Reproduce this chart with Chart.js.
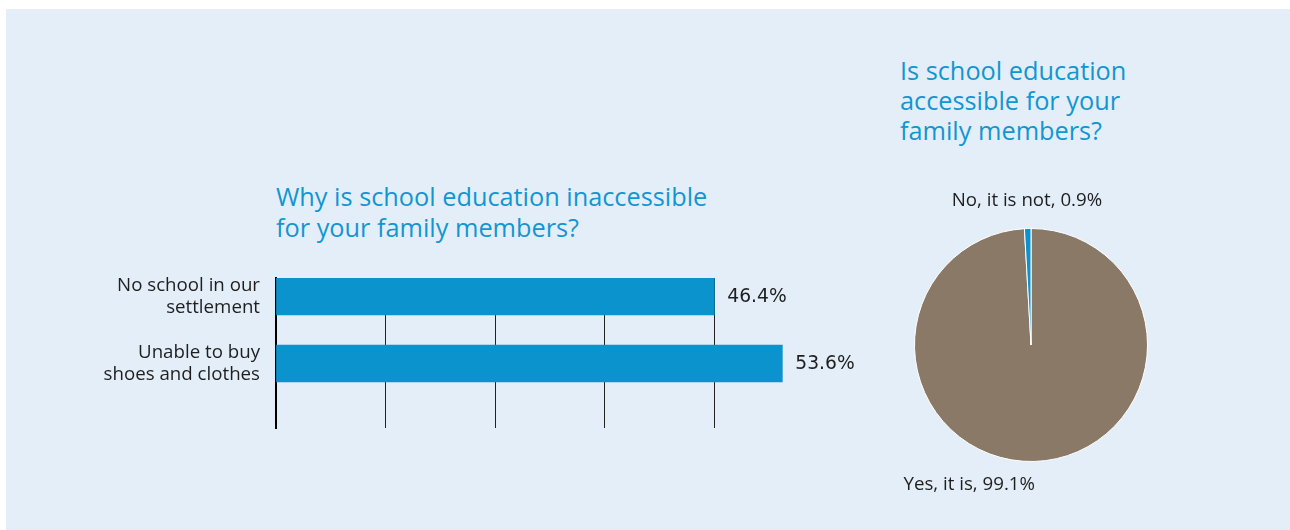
<!DOCTYPE html>
<html>
<head>
<meta charset="utf-8">
<script src="https://cdn.jsdelivr.net/npm/chart.js@4.4.1/dist/chart.umd.min.js"></script>
<style>
  html, body { margin: 0; padding: 0; background: #fff; }
  body { width: 1290px; height: 530px; position: relative; overflow: hidden; font-family: "Open Sans", sans-serif; }
  .panel { position: absolute; left: 6px; top: 9px; width: 1284px; height: 521px; background: #e4eef9; }
  .title { position: absolute; color: #1296d3; font-size: 25.3px; white-space: nowrap; }
  #barTitle { left: 276px; top: 181px; line-height: 31px; }
  #pieTitle { left: 900px; top: 55px; line-height: 30px; }
  canvas { position: absolute; }
  #bar { left: 80px; top: 250px; }
  #pie { left: 880px; top: 160px; }
</style>
</head>
<body>
<div class="panel"></div>
<div class="title" id="barTitle">Why is school education inaccessible<br>for your family members?</div>
<div class="title" id="pieTitle">Is school education<br>accessible for your<br>family members?</div>
<canvas id="bar" width="800" height="200"></canvas>
<canvas id="pie" width="300" height="360"></canvas>
<script>
// ===== 数据 =====
const barCategories = [
  ['No school in our', 'settlement'],
  ['Unable to buy', 'shoes and clothes']
];
const barValues = [46.4, 53.6];

const pieLabels = ['Yes, it is', 'No, it is not'];
const pieValues = [99.1, 0.9];

const BLUE = '#0b93cd';
const BROWN = '#8a7966';
const TEXT = '#1e1e1e';
const LABEL_SIZE = 18.7;

// 柱状图数值标签
const barValueLabels = {
  id: 'barValueLabels',
  afterDatasetsDraw(chart) {
    const ctx = chart.ctx;
    ctx.save();
    ctx.font = LABEL_SIZE + 'px "DejaVu Sans"';
    ctx.fillStyle = TEXT;
    ctx.textAlign = 'left';
    ctx.textBaseline = 'middle';
    chart.getDatasetMeta(0).data.forEach((bar, i) => {
      ctx.fillText(barValues[i].toFixed(1) + '%', bar.x + 13, bar.y + 1);
    });
    ctx.restore();
  }
};

new Chart(document.getElementById('bar'), {
  type: 'bar',
  data: {
    datasets: [{
      data: barValues.map((v, i) => ({ x: v, y: i })),
      backgroundColor: BLUE,
      barThickness: 37,
      borderWidth: 0
    }]
  },
  options: {
    indexAxis: 'y',
    responsive: false,
    animation: false,
    layout: { padding: { top: 28, bottom: 22, right: 75, left: 0 } },
    plugins: { legend: { display: false }, tooltip: { enabled: false } },
    scales: {
      x: {
        type: 'linear',
        min: 0,
        max: 56,
        ticks: { display: false, stepSize: 11.6, includeBounds: false },
        grid: { color: '#222', lineWidth: 1, drawTicks: false },
        border: { display: false }
      },
      y: {
        type: 'linear',
        reverse: true,
        offset: false,
        min: -0.276,
        max: 1.963,
        afterBuildTicks: (scale) => { scale.ticks = barCategories.map((_, i) => ({ value: i })); },
        afterFit: (scale) => {
          scale.width = 196;
          scale.paddingTop = 0;
          scale.paddingBottom = 0;
        },
        ticks: {
          padding: 16,
          color: TEXT,
          font: { family: 'Open Sans', size: LABEL_SIZE, lineHeight: 1.18 },
          callback: (v) => barCategories[v] || ''
        },
        grid: { display: false, drawTicks: false, offset: false },
        border: { display: true, color: '#000', width: 2 }
      }
    }
  },
  plugins: [barValueLabels]
});

// 饼图外侧标签
const pieOuterLabels = {
  id: 'pieOuterLabels',
  afterDatasetsDraw(chart) {
    const ctx = chart.ctx;
    ctx.save();
    ctx.font = LABEL_SIZE + 'px "Open Sans"';
    ctx.fillStyle = TEXT;
    ctx.textBaseline = 'middle';
    chart.getDatasetMeta(0).data.forEach((arc, i) => {
      const mid = (arc.startAngle + arc.endAngle) / 2;
      const below = Math.sin(mid) > 0;
      const r = arc.outerRadius + (below ? 23 : 28);
      ctx.textAlign = below ? 'right' : 'center';
      const x = arc.x + Math.cos(mid) * r;
      const y = arc.y + Math.sin(mid) * r;
      ctx.fillText(pieLabels[i] + ', ' + pieValues[i].toFixed(1) + '%', x, y);
    });
    ctx.restore();
  }
};

new Chart(document.getElementById('pie'), {
  type: 'pie',
  data: {
    labels: pieLabels,
    datasets: [{
      data: pieValues,
      backgroundColor: [BROWN, BLUE],
      borderColor: '#fff',
      borderWidth: 1
    }]
  },
  options: {
    responsive: false,
    animation: false,
    layout: { padding: { left: 34, right: 32, top: 68, bottom: 58 } },
    plugins: { legend: { display: false }, tooltip: { enabled: false } }
  },
  plugins: [pieOuterLabels]
});
</script>
</body>
</html>
